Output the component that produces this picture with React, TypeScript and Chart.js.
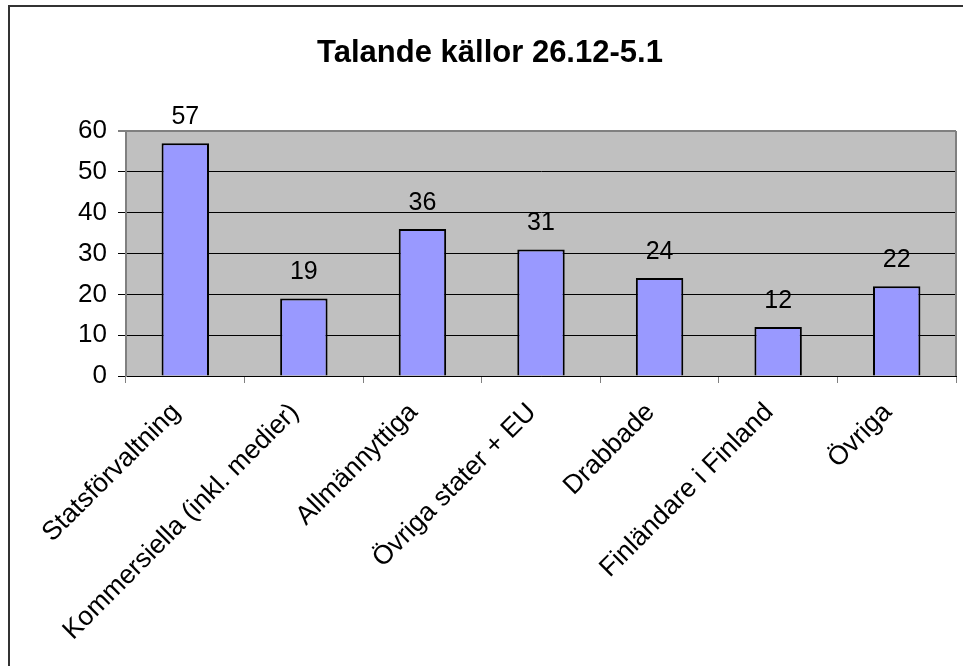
import React, { useEffect, useRef } from "react";
import { Chart, registerables } from "chart.js";

Chart.register(...registerables);

const titleText = "Talande källor 26.12-5.1";
const categories = [
  "Statsförvaltning",
  "Kommersiella (inkl. medier)",
  "Allmännyttiga",
  "Övriga stater + EU",
  "Drabbade",
  "Finländare i Finland",
  "Övriga",
];
const values = [57, 19, 36, 31, 24, 12, 22];
const yMin = 0;
const yMax = 60;
const yStep = 10;

const FONT = "'Liberation Sans', Arial, sans-serif";

const framePlugin = {
  id: "framePlugin",
  beforeDraw(chart: any) {
    const { ctx, chartArea } = chart;
    ctx.save();
    ctx.fillStyle = "#ffffff";
    ctx.fillRect(0, 0, chart.width, chart.height);
    ctx.fillStyle = "#C0C0C0";
    ctx.fillRect(
      chartArea.left,
      chartArea.top,
      chartArea.right - chartArea.left,
      chartArea.bottom - chartArea.top
    );
    ctx.strokeStyle = "#333333";
    ctx.lineWidth = 2;
    ctx.beginPath();
    ctx.moveTo(9, chart.height + 5);
    ctx.lineTo(9, 6);
    ctx.lineTo(chart.width + 5, 6);
    ctx.stroke();
    ctx.restore();
  },
  afterDatasetsDraw(chart: any) {
    const { ctx, chartArea } = chart;
    ctx.save();
    ctx.strokeStyle = "#808080";
    ctx.lineWidth = 2;
    ctx.beginPath();
    ctx.moveTo(chartArea.right, chartArea.top);
    ctx.lineTo(chartArea.right, chartArea.bottom);
    ctx.stroke();
    const meta = chart.getDatasetMeta(0);
    ctx.fillStyle = "#000";
    ctx.font = `25px ${FONT}`;
    ctx.textAlign = "center";
    ctx.textBaseline = "alphabetic";
    meta.data.forEach((bar: any, i: number) => {
      ctx.fillText(String(values[i]), bar.x, bar.y - 19);
    });
    ctx.font = `bold 31px ${FONT}`;
    ctx.fillText(titleText, 490, 62);
    ctx.restore();
  },
};

export default function App() {
  const ref = useRef<HTMLCanvasElement>(null);
  useEffect(() => {
    const chart = new Chart(ref.current as HTMLCanvasElement, {
      type: "bar",
      data: {
        labels: categories,
        datasets: [
          {
            data: values,
            backgroundColor: "#9999FF",
            borderColor: "#000000",
            borderWidth: 2,
            barPercentage: 0.4,
            categoryPercentage: 1,
          },
        ],
      },
      options: {
        animation: false,
        responsive: false,
        maintainAspectRatio: false,
        layout: { padding: { top: 131, right: 7, left: 0, bottom: 0 } },
        plugins: {
          legend: { display: false },
          title: { display: false },
          tooltip: { enabled: false },
        },
        scales: {
          x: {
            grid: {
              offset: true,
              drawOnChartArea: false,
              drawTicks: true,
              tickLength: 7,
              color: "#808080",
            },
            border: { color: "#000", width: 1 },
            ticks: {
              autoSkip: false,
              maxRotation: 45,
              minRotation: 45,
              color: "#000",
              font: { family: FONT, size: 26.5 },
              padding: 14,
              labelOffset: -9,
            },
            afterFit(scale: any) {
              scale.height = 290;
            },
          },
          y: {
            min: yMin,
            max: yMax,
            ticks: {
              stepSize: yStep,
              color: "#000",
              font: { family: FONT, size: 26 },
              padding: 11,
            },
            grid: {
              color: (c: any) => (c.tick && c.tick.value === yMax ? "#808080" : "#000000"),
              lineWidth: (c: any) => (c.tick && c.tick.value === yMax ? 2 : 1),
              tickLength: 8,
            },
            border: { color: "#808080", width: 2 },
            afterFit(scale: any) {
              scale.width = 126;
            },
          },
        },
      },
      plugins: [framePlugin],
    });
    return () => chart.destroy();
  }, []);
  return (
    <div style={{ position: "fixed", left: 0, top: 0, width: 963, height: 666 }}>
      <canvas ref={ref} width={963} height={666} style={{ display: "block" }} />
    </div>
  );
}
